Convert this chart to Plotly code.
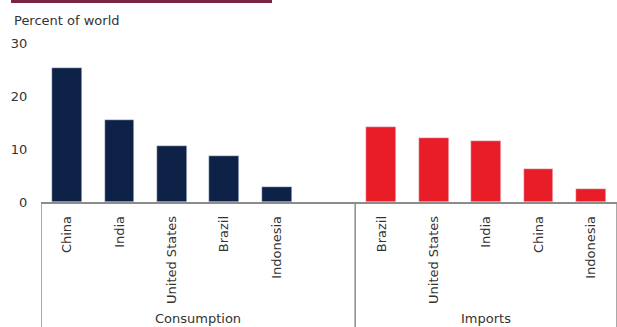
import plotly.graph_objects as go

groups = ["Consumption", "Imports"]
consumption_countries = ["China", "India", "United States", "Brazil", "Indonesia"]
consumption_values = [25.3, 15.5, 10.6, 8.7, 2.9]
import_countries = ["Brazil", "United States", "India", "China", "Indonesia"]
import_values = [14.1, 12.0, 11.5, 6.2, 2.5]
y_ticks = [0, 10, 20, 30]
y_title = "Percent of world"

navy = "#0e2248"
red = "#e91d27"
text_color = "#333333"
line_color = "#8c8c8c"
font_family = "DejaVu Sans"

# category slot positions (one empty slot between the groups)
n1 = len(consumption_countries)
x_cons = list(range(n1))
x_imp = [n1 + 1 + i for i in range(len(import_countries))]
n_slots = n1 + 1 + len(import_countries)

fig = go.Figure()
fig.add_trace(go.Bar(x=x_cons, y=consumption_values, marker_color=navy,
                     width=0.57, showlegend=False))
fig.add_trace(go.Bar(x=x_imp, y=import_values, marker_color=red,
                     width=0.57, showlegend=False))

fig.update_layout(
    width=617, height=327,
    margin=dict(l=41, r=0, t=43, b=125),
    paper_bgcolor="white", plot_bgcolor="white",
    font=dict(family=font_family, size=13, color=text_color),
    bargap=0,
)
fig.update_xaxes(
    range=[-0.5, n_slots - 0.5],
    tickvals=x_cons + x_imp,
    ticktext=consumption_countries + import_countries,
    tickangle=-90,
    showgrid=False, zeroline=False,
    showline=True, linecolor=line_color, linewidth=1.5,
    ticks="outside", ticklen=7, tickcolor="rgba(0,0,0,0)",
    tickfont=dict(size=13, color=text_color),
)
fig.update_yaxes(
    range=[0, 30],
    tickvals=y_ticks,
    showgrid=False, zeroline=False, showline=False,
    ticks="outside", ticklen=10, tickcolor="rgba(0,0,0,0)",
    tickfont=dict(size=13, color=text_color),
)

# group divider lines below the axis
bounds = [-0.5, n1 + 0.5, n_slots - 0.5]
for b in bounds:
    fig.add_shape(type="line", xref="x", yref="paper", x0=b, x1=b, y0=0, y1=-1,
                  line=dict(color=line_color, width=1.5))

# group labels
centers = [(bounds[0] + bounds[1]) / 2, sum(x_imp) / len(x_imp)]
for g, c in zip(groups, centers):
    fig.add_annotation(text=g, xref="x", yref="paper", x=c, y=-0.735,
                       showarrow=False, yanchor="middle", xanchor="center",
                       font=dict(size=13, color=text_color))

# unit label
fig.add_annotation(text=y_title, xref="paper", yref="paper", x=-41/576 + 12/576, y=1 + 23/159,
                   xanchor="left", yanchor="middle", showarrow=False,
                   font=dict(size=13, color=text_color))

# maroon top bar
fig.add_shape(type="rect", xref="paper", yref="paper",
              x0=(11 - 41) / 576, x1=(272 - 41) / 576, y0=1 + 40/159, y1=1 + 44/159,
              fillcolor="#7b2640", line=dict(width=0))

fig.write_html("out.html")
